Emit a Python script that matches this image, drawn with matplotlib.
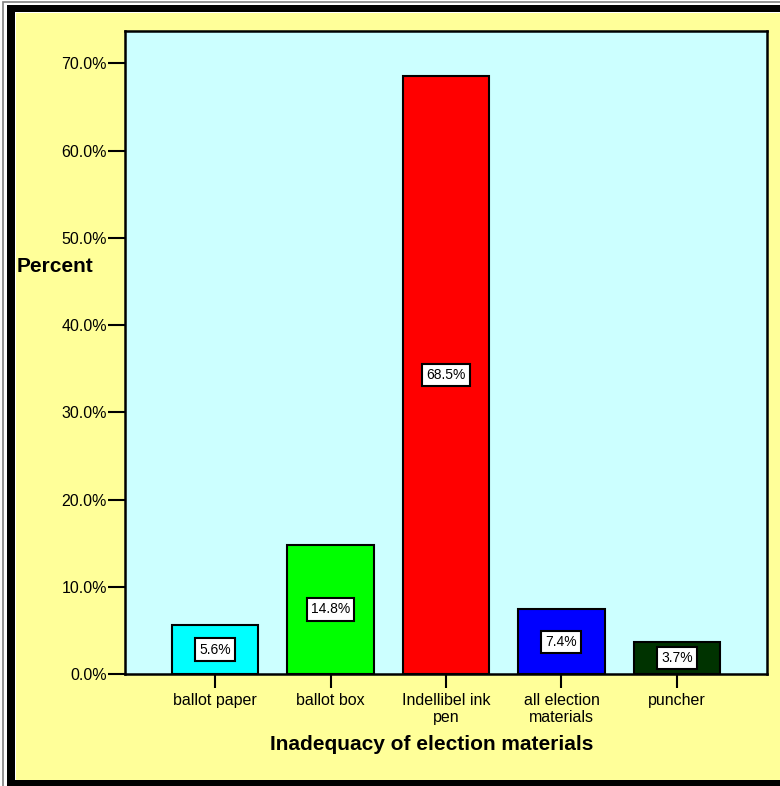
import matplotlib
matplotlib.use("Agg")
import matplotlib.pyplot as plt
from matplotlib.patches import Rectangle
from matplotlib.ticker import FuncFormatter

plt.rcParams['font.family'] = ['Liberation Sans', 'DejaVu Sans']

categories = ["ballot paper", "ballot box", "Indellibel ink\npen", "all election\nmaterials", "puncher"]
percents = [5.6, 14.8, 68.5, 7.4, 3.7]
bar_colors = ["#00FFFF", "#00FF00", "#FF0000", "#0000FF", "#003300"]
y_ticks = [0, 10, 20, 30, 40, 50, 60, 70]

W, H = 780, 786
fig = plt.figure(figsize=(W / 100, H / 100), dpi=100)
fig.patch.set_facecolor("#FFFF99")

# double frame around the chart
def frame_rect(x0, y0, x1, y1, **kw):
    fig.patches.append(Rectangle((x0 / W, 1 - y1 / H), (x1 - x0) / W, (y1 - y0) / H,
                                 transform=fig.transFigure, **kw))

frame_rect(0, 0, W, H, facecolor="white", edgecolor="none", zorder=-10)
frame_rect(3, 2, W + 10, H + 10, facecolor="none", edgecolor="#808080", linewidth=1.2, zorder=-9)
frame_rect(7, 5, W + 10, H + 10, facecolor="black", edgecolor="none", zorder=-8)
frame_rect(15, 12, W + 10, H - 6, facecolor="white", edgecolor="none", zorder=-7)
frame_rect(16, 13, W + 10, H - 6, facecolor="#FFFF99", edgecolor="none", zorder=-6)

left, right, top, bottom = 125, 767, 31, 674
ax = fig.add_axes([left / W, 1 - bottom / H, (right - left) / W, (bottom - top) / H])
ax.set_facecolor("#CCFFFF")

x = list(range(len(categories)))
ax.bar(x, percents, width=0.75, color=bar_colors, edgecolor="black", linewidth=1.5, zorder=3)

for xi, v in zip(x, percents):
    ax.text(xi, v / 2, f"{v:.1f}%", ha="center", va="center", fontsize=10, zorder=4,
            bbox=dict(boxstyle="square,pad=0.3", facecolor="white", edgecolor="black", linewidth=1.5))

ax.set_xlim(-0.78, 4.78)
ax.set_ylim(0, 73.7)
ax.set_yticks(y_ticks)
ax.yaxis.set_major_formatter(FuncFormatter(lambda v, p: f"{v:.1f}%"))
ax.set_xticks(x)
ax.set_xticklabels(categories, fontsize=11.5, linespacing=1.15)
ax.tick_params(axis="y", length=12, width=1.5, labelsize=11.5, pad=1)
ax.tick_params(axis="x", length=10, width=1.5, pad=4)
for s in ax.spines.values():
    s.set_linewidth(1.8)

fig.text(17 / W, 1 - 266 / H, "Percent", fontsize=15, fontweight="bold", ha="left", va="center")
fig.text(432 / W, 1 - 745 / H, "Inadequacy of election materials", fontsize=15,
         fontweight="bold", ha="center", va="center")

fig.savefig("out.png", dpi=100, facecolor=fig.get_facecolor())
